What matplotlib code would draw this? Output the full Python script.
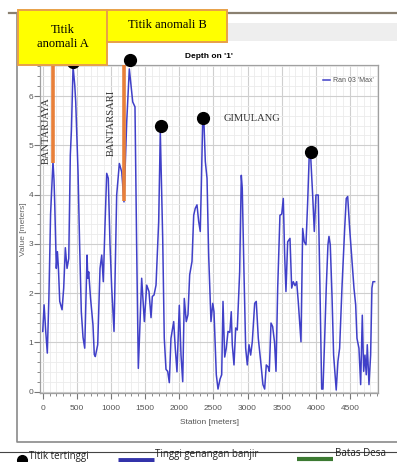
import matplotlib.pyplot as plt
from matplotlib.patches import Rectangle
from matplotlib.ticker import MultipleLocator

# Max flood depth along the river profile
station = [0, 20, 45, 67, 90, 115, 150, 165, 176, 199, 215, 230, 249, 283, 307, 331, 356, 381,
           404, 420, 444, 469, 483, 517, 540, 565, 590, 615, 649, 660, 673, 700, 736, 755, 770,
           790, 805, 839, 864, 887, 910, 937, 960, 985, 1010, 1044, 1083, 1122, 1157, 1190,
           1230, 1253, 1268, 1293, 1318, 1351, 1375, 1400, 1449, 1488, 1523, 1556, 1586, 1605,
           1630, 1659, 1698, 1722, 1757, 1780, 1805, 1830, 1854, 1878, 1918, 1941, 1966, 2000,
           2025, 2050, 2073, 2102, 2127, 2152, 2186, 2211, 2234, 2259, 2284, 2307, 2322, 2342,
           2357, 2381, 2406, 2430, 2464, 2490, 2508, 2542, 2567, 2596, 2621, 2640, 2665, 2688,
           2713, 2740, 2761, 2776, 2801, 2826, 2849, 2884, 2908, 2922, 2947, 2972, 2996, 3021,
           3045, 3069, 3104, 3127, 3157, 3192, 3225, 3250, 3274, 3300, 3318, 3343, 3367, 3395,
           3416, 3441, 3474, 3500, 3523, 3543, 3562, 3587, 3621, 3646, 3669, 3695, 3719, 3742,
           3782, 3807, 3830, 3855, 3880, 3903, 3918, 3953, 3977, 4001, 4035, 4060, 4085, 4104,
           4129, 4152, 4177, 4192, 4211, 4236, 4260, 4298, 4323, 4348, 4382, 4422, 4445, 4466,
           4495, 4529, 4558, 4583, 4602, 4631, 4656, 4680, 4700, 4719, 4738, 4753, 4778, 4802,
           4821, 4836, 4861]
depth = [1.22, 1.76, 1.2, 0.78, 1.9, 3.6, 4.67, 4.3, 3.8, 2.5, 2.84, 2.5, 1.83, 1.66, 2.1, 2.92,
         2.5, 2.7, 4.8, 5.3, 6.6, 6.22, 5.88, 4.46, 3.0, 1.62, 1.1, 0.88, 2.77, 2.3, 2.43, 1.9,
         1.35, 0.75, 0.71, 0.85, 0.95, 2.5, 2.77, 2.23, 3.3, 4.43, 4.33, 3.0, 2.1, 1.22, 3.99,
         4.63, 4.46, 3.85, 5.48, 6.15, 6.55, 6.22, 5.88, 5.78, 3.0, 0.47, 2.3, 1.42, 2.16, 2.03,
         1.5, 1.93, 1.96, 2.16, 3.45, 5.27, 3.1, 1.08, 0.45, 0.41, 0.18, 1.08, 1.42, 0.88, 0.4,
         1.75, 0.74, 0.2, 1.89, 1.42, 1.56, 2.37, 2.64, 3.58, 3.72, 3.79, 3.45, 3.25, 4.13, 5.48,
         5.61, 4.67, 4.33, 2.77, 1.42, 1.79, 1.62, 0.34, 0.05, 0.25, 0.34, 1.83, 0.7, 0.88, 1.22,
         1.2, 1.62, 0.95, 0.54, 1.29, 1.25, 2.43, 4.39, 4.13, 2.43, 0.88, 0.54, 0.95, 0.74, 1.01,
         1.79, 1.83, 1.08, 0.61, 0.14, 0.05, 0.54, 0.5, 0.41, 1.39, 1.32, 1.0, 0.41, 2.1, 3.58,
         3.6, 3.92, 2.77, 2.03, 3.04, 3.11, 2.1, 2.23, 2.15, 2.23, 1.83, 1.01, 3.31, 3.04, 2.98,
         3.85, 4.8, 4.94, 3.99, 3.25, 3.99, 3.99, 2.1, 0.05, 0.05, 1.08, 2.1, 2.98, 3.15, 2.98,
         1.96, 0.74, 0.03, 0.61, 0.88, 2.1, 3.31, 3.92, 3.96, 3.31, 2.64, 2.1, 1.76, 1.08, 0.88,
         0.14, 1.55, 0.41, 0.74, 0.34, 0.95, 0.14, 0.74, 2.1, 2.23, 2.23]

# highest points
peak_station = [448, 1271, 1732, 2342, 3928]
peak_depth = [6.69, 6.73, 5.4, 5.55, 4.87]

# anomaly markers (village boundary)
anomaly_station = [156, 1186]
anomaly_depth = [4.64, 3.86]

village_names = ["BANTARJAYA", "BANTARSARI", "GIMULANG"]
x_ticks = [0, 500, 1000, 1500, 2000, 2500, 3000, 3500, 4000, 4500]
y_ticks = [0, 1, 2, 3, 4, 5, 6]

W, H = 397, 462
fig = plt.figure(figsize=(W / 100, H / 100), dpi=100)

serif = ["Liberation Serif", "DejaVu Serif"]
narrow = ["Liberation Sans Narrow", "Liberation Sans", "DejaVu Sans"]

ax = fig.add_axes([40 / W, 1 - 392.5 / H, 338 / W, 327.5 / H])
ax.set_xlim(-40, 4910)
ax.set_ylim(-0.02, 6.63)

ax.plot(station, depth, color="#4040c8", lw=1.1, label="Ran 03 'Max'", zorder=3)
ax.plot(peak_station, peak_depth, "o", color="black", ms=8.5, clip_on=False, zorder=5)
ax.vlines(anomaly_station, anomaly_depth, 6.63, color="#e8803a", lw=2.6, zorder=4, clip_on=False)

ax.text(47, 5.3, village_names[0], rotation=90, ha="center", va="center", fontsize=7.6,
        family=serif, color="#333333")
ax.text(1000, 5.45, village_names[1], rotation=90, ha="center", va="center", fontsize=7.6,
        family=serif, color="#333333")
ax.text(2650, 5.55, village_names[2], ha="left", va="center", fontsize=7.6,
        family=serif, color="#333333")

ax.xaxis.set_major_locator(MultipleLocator(500))
ax.xaxis.set_minor_locator(MultipleLocator(100))
ax.yaxis.set_major_locator(MultipleLocator(1))
ax.yaxis.set_minor_locator(MultipleLocator(0.2))
ax.set_xticks(x_ticks)
ax.set_yticks(y_ticks)
ax.grid(which="major", color="#cfcfcf", lw=0.8, zorder=0)
ax.grid(which="minor", color="#ebebeb", lw=0.6, zorder=0)
ax.tick_params(which="both", direction="out", color="#777777", labelsize=6, labelcolor="#555555")
ax.tick_params(which="major", length=4, width=0.8)
ax.tick_params(which="minor", length=2.5, width=0.6)
ax.tick_params(axis="y", pad=1)
ax.tick_params(axis="x", pad=5)
for lab in ax.get_xticklabels() + ax.get_yticklabels():
    lab.set_family(narrow)
for s in ax.spines.values():
    s.set_color("#a0a0a0")
    s.set_linewidth(0.9)

ax.set_xlabel("Station [meters]", fontsize=6, color="#555555", family=narrow, labelpad=5)
ax.set_ylabel("Value [meters]", fontsize=6, color="#666666", family=narrow, labelpad=1)
ax.set_title("Depth on '1'", fontsize=6, fontweight="bold", family=narrow, pad=5)

leg = ax.legend(loc="upper right", bbox_to_anchor=(1.0, 0.975), frameon=False, fontsize=5,
                handlelength=1.0, handletextpad=0.4, borderaxespad=0.2)
for t in leg.get_texts():
    t.set_color("#555555")
    t.set_family(narrow)

# overlay in pixel coordinates for window frame, callout boxes and key
ov = fig.add_axes([0, 0, 1, 1], zorder=10)
ov.set_xlim(0, W)
ov.set_ylim(H, 0)
ov.axis("off")
ov.patch.set_alpha(0)

ov.add_patch(Rectangle((107, 23), 290, 18, facecolor="#eeeeee", edgecolor="none", zorder=1))
ov.plot([9, 397], [13, 13], color="#8a8070", lw=1.6, zorder=2)
ov.plot([17, 17, 397], [13, 442, 442], color="#8a8a8a", lw=1.2, zorder=2)
ov.plot([0, 397], [452, 452], color="#444444", lw=0.8, zorder=2)

ov.add_patch(Rectangle((18, 10), 89, 55, facecolor="#ffff00", edgecolor="#e8a048", lw=1.4, zorder=6))
ov.add_patch(Rectangle((107, 10), 120, 32, facecolor="#ffff00", edgecolor="#e8a048", lw=1.4, zorder=6))
ov.text(62.5, 37, "Titik\nanomali A", ha="center", va="center", fontsize=9, family=serif,
        linespacing=1.15, zorder=7)
ov.text(167, 25, "Titik anomali B", ha="center", va="center", fontsize=9, family=serif, zorder=7)

ov.plot([22], [460], "o", color="black", ms=7, zorder=3, clip_on=False)
ov.text(29, 456, "Titik tertinggi", fontsize=7, va="center", family=["Open Sans", "DejaVu Sans"],
        color="#222222", zorder=3)
ov.plot([118, 154], [460, 460], color="#3333aa", lw=3.5, zorder=3, solid_capstyle="butt")
ov.text(155, 455, "Tinggi genangan banjir", fontsize=7, va="center",
        family=["Open Sans", "DejaVu Sans"], color="#222222", zorder=3)
ov.plot([297, 333], [459, 459], color="#3c7a32", lw=3, zorder=3, solid_capstyle="butt")
ov.text(335, 454, "Batas Desa", fontsize=7, va="center", family=["Open Sans", "DejaVu Sans"],
        color="#222222", zorder=3)

fig.savefig("out.png", dpi=100)
